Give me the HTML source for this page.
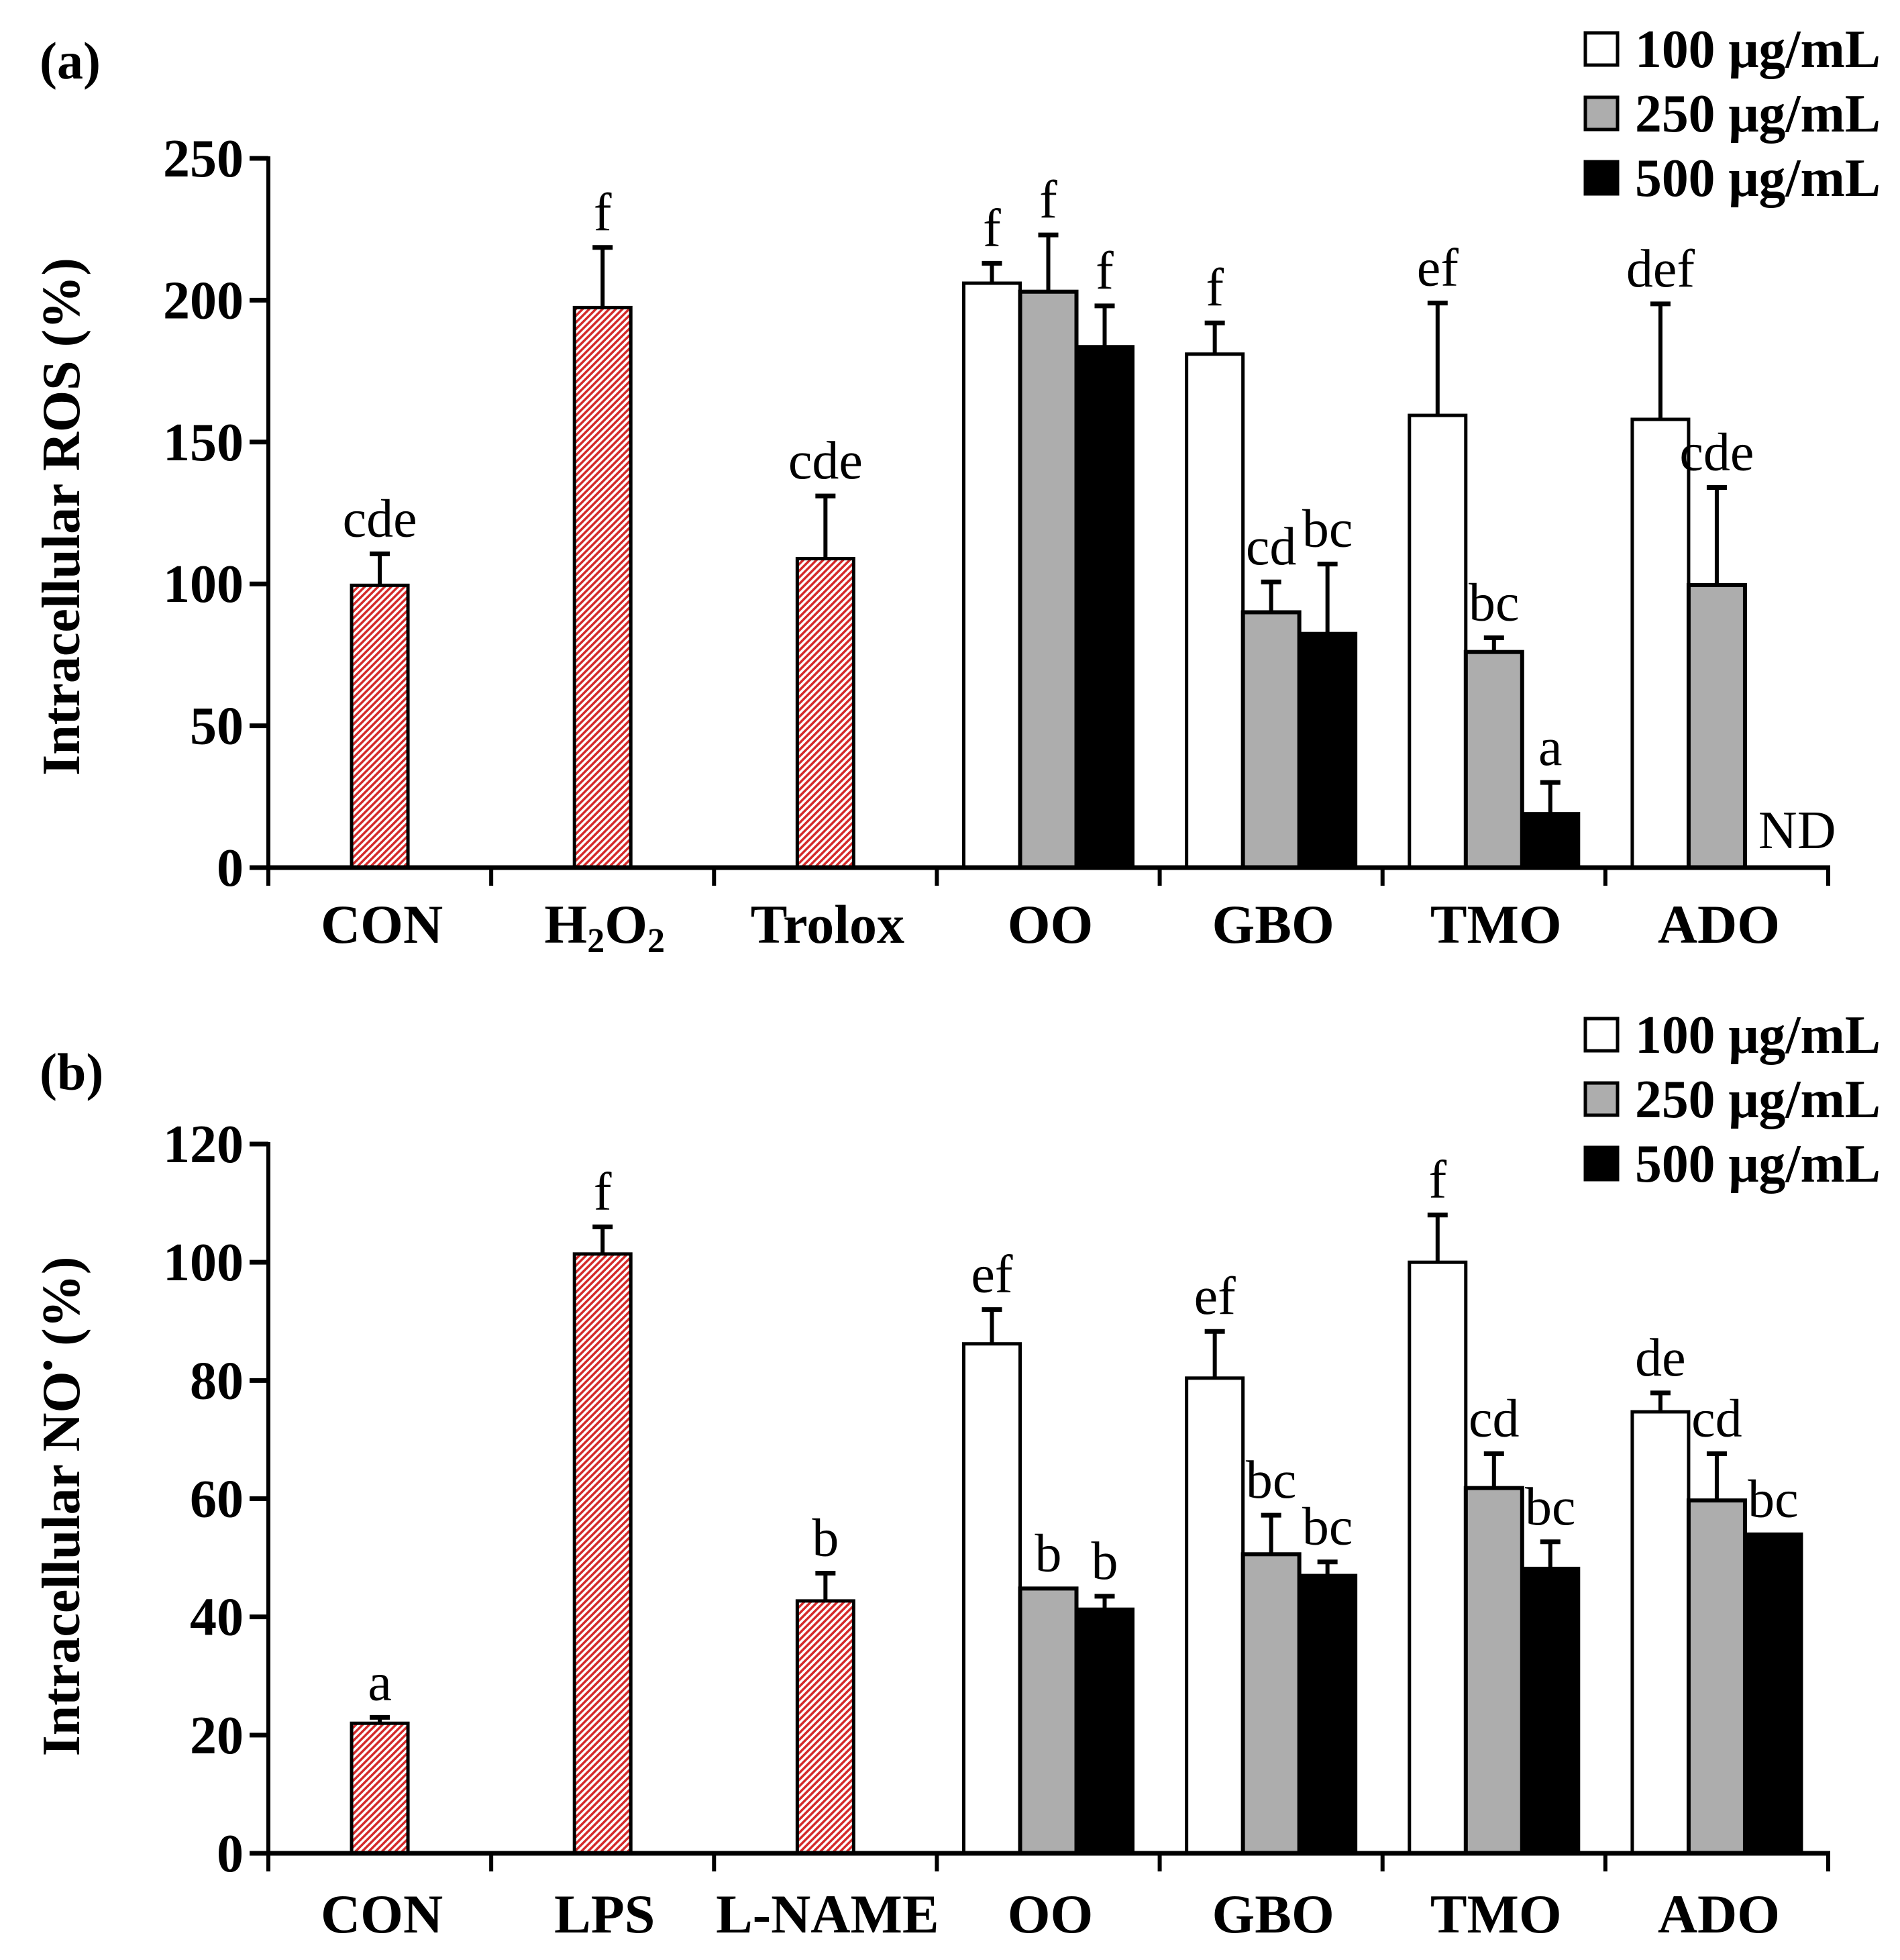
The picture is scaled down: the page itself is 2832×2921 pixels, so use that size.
<!DOCTYPE html>
<html><head><meta charset="utf-8">
<style>
html,body{margin:0;padding:0;background:#fff;}
svg{display:block;}
text{font-family:"Liberation Serif","DejaVu Serif",serif;fill:#000;}
.b{font-weight:bold;}
</style></head>
<body>
<svg id="fig" width="2832" height="2921" viewBox="0 0 2832 2921" xmlns="http://www.w3.org/2000/svg">
<defs>
<pattern id="hatch" patternUnits="userSpaceOnUse" width="7" height="7" patternTransform="rotate(-45)">
<rect width="7" height="7" fill="#fff"/>
<rect width="7" height="3.5" fill="#d42a2a"/>
</pattern>
</defs>
<g id="chartA"></g>
<g id="chartB"></g>
</svg>
<script>
// ---- Chart (a) data ----
const catsA = ["CON","H2O2","Trolox","OO","GBO","TMO","ADO"];
const ctrlA = [99.5, 197.4, 108.9];
const ctrlErrA = [110.6, 218.6, 131];
const ctrlLblA = ["cde","f","cde"];
const a100 = [206, 181, 159.4, 158];
const a250 = [203, 90, 76, 99.6];
const a500 = [183.6, 82.5, 19, 0];
const a100e = [213, 192, 199, 198.7];
const a250e = [223, 100.7, 81, 134];
const a500e = [198, 107, 30, null];
const a100l = ["f","f","ef","def"];
const a250l = ["f","cd","bc","cde"];
const a500l = ["f","bc","a","ND"];
const ticksA = [0,50,100,150,200,250];

// ---- Chart (b) data ----
const catsB = ["CON","LPS","L-NAME","OO","GBO","TMO","ADO"];
const ctrlB = [22, 101.4, 42.7];
const ctrlErrB = [23, 106, 47.4];
const ctrlLblB = ["a","f","b"];
const b100 = [86.2, 80.4, 100, 74.7];
const b250 = [44.8, 50.6, 61.8, 59.7];
const b500 = [41.3, 47, 48.2, 54];
const b100e = [92, 88.3, 108, 77.9];
const b250e = [44.8, 57.2, 67.6, 67.6];
const b500e = [43.5, 49.3, 52.7, 54];
const b100l = ["ef","ef","f","de"];
const b250l = ["b","bc","cd","cd"];
const b500l = ["b","bc","bc","bc"];
const ticksB = [0,20,40,60,80,100,120];

const NS = "http://www.w3.org/2000/svg";
function mk(parent, tag, attrs, txt){
  const e = document.createElementNS(NS, tag);
  for (const k in attrs) e.setAttribute(k, attrs[k]);
  if (txt !== undefined) e.textContent = txt;
  parent.appendChild(e);
  return e;
}

function drawChart(g, cfg){
  const x0 = 400, x1 = 2725, base = cfg.base, top = cfg.top, vmax = cfg.vmax;
  const catW = (x1 - x0) / 7, barW = 84;
  const yS = v => base - (base - top) * v / vmax;
  const catC = i => x0 + catW * (i + 0.5);

  const pl = mk(g,'text',{x:59,y:cfg.panelY,'font-size':78,class:'b'},cfg.panel);
  
  

  const yt = mk(g,'text',{x:0,y:0,'font-size':80,class:'b','text-anchor':'middle',
    transform:`translate(${cfg.titleX},${cfg.titleY}) rotate(-90)`});
  yt.innerHTML = cfg.titleHtml;
  
  

  function bar(x, v, fill, sw, err, lbl, nm){
    const y = yS(v);
    if (err !== null && err !== undefined && err > v) {
      const ye = yS(err);
      const l = mk(g,'line',{x1:x+barW/2,x2:x+barW/2,y1:y,y2:ye,stroke:'#000','stroke-width':6});
      
      
      const c = mk(g,'line',{x1:x+barW/2-15,x2:x+barW/2+15,y1:ye,y2:ye,stroke:'#000','stroke-width':7});
      
      
    }
    if (v > 0) {
      const r = mk(g,'rect',{x:x,y:y,width:barW,height:base-y,fill:fill,stroke:'#000','stroke-width':sw});
      
      
    }
    if (lbl) {
      let ly, lx = x + barW/2, anchor='middle';
      if (lbl === 'ND') { ly = base - 29; lx = x + 20; anchor='start'; }
      else { const t = (err !== null && err !== undefined) ? Math.max(err, v) : v; ly = yS(t) - 26; }
      const t = mk(g,'text',{x:lx,y:ly,'font-size':80,'text-anchor':anchor},lbl);
      
      
    }
  }

  for (let i=0;i<3;i++){
    bar(catC(i)-barW/2, cfg.ctrl[i], 'url(#hatch)', 5, cfg.ctrlErr[i], cfg.ctrlLbl[i], 'bar-'+cfg.cats[i].toLowerCase());
  }
  for (let j=0;j<4;j++){
    const c = catC(j+3);
    bar(c-1.5*barW, cfg.s100[j], '#fff', 5, cfg.e100[j], cfg.l100[j], 'bar-100');
    bar(c-0.5*barW, cfg.s250[j], '#adadad', 6, cfg.e250[j], cfg.l250[j], 'bar-250');
    bar(c+0.5*barW, cfg.s500[j], '#000', 5, cfg.e500[j], cfg.l500[j], 'bar-500');
  }

  const ya = mk(g,'line',{x1:x0,x2:x0,y1:top-3,y2:base+27,stroke:'#000','stroke-width':6});
  
  
  const xa = mk(g,'line',{x1:372,x2:x1+3,y1:base,y2:base,stroke:'#000','stroke-width':7});
  
  
  for (let i=1;i<=7;i++){
    const tx = x0 + catW*i;
    const tk = mk(g,'line',{x1:tx,x2:tx,y1:base,y2:base+27,stroke:'#000','stroke-width':6});
    
    
  }
  cfg.ticks.forEach(v=>{
    const y = yS(v);
    const tk = mk(g,'line',{x1:372,x2:x0,y1:y,y2:y,stroke:'#000','stroke-width':7});
    
    
    const tl = mk(g,'text',{x:363,y:y+27,'font-size':80,class:'b','text-anchor':'end'},String(v));
    
    
  });
  cfg.cats.forEach((c,i)=>{
    const t = mk(g,'text',{x:catC(i)+3,y:cfg.catY,'font-size':82,class:'b','text-anchor':'middle'});
    if (c === 'H2O2') t.innerHTML = 'H<tspan font-size="52" dy="14">2</tspan><tspan dy="-14">O</tspan><tspan font-size="52" dy="14">2</tspan>';
    else t.textContent = c;
    
    
  });

  const fills = ['#fff','#adadad','#000'], labs = ['100 μg/mL','250 μg/mL','500 μg/mL'];
  for (let k=0;k<3;k++){
    const ly = cfg.legY + k*96;
    const r = mk(g,'rect',{x:2363,y:ly,width:48,height:48,fill:fills[k],stroke:'#000','stroke-width':5});
    
    
    const t = mk(g,'text',{x:2437,y:ly+51,'font-size':80,class:'b','textLength':366,'lengthAdjust':'spacingAndGlyphs'},labs[k]);
    
    
  }
}

drawChart(document.getElementById('chartA'), {
  base:1293, top:236, vmax:250, ticks:ticksA, cats:catsA,
  ctrl:ctrlA, ctrlErr:ctrlErrA, ctrlLbl:ctrlLblA,
  s100:a100, s250:a250, s500:a500, e100:a100e, e250:a250e, e500:a500e,
  l100:a100l, l250:a250l, l500:a500l,
  panel:'(a)', panelY:117, titleX:118, titleY:770,
  titleHtml:'Intracellular ROS (%)', catY:1405, legY:49
});
drawChart(document.getElementById('chartB'), {
  base:2762, top:1705, vmax:120, ticks:ticksB, cats:catsB,
  ctrl:ctrlB, ctrlErr:ctrlErrB, ctrlLbl:ctrlLblB,
  s100:b100, s250:b250, s500:b500, e100:b100e, e250:b250e, e500:b500e,
  l100:b100l, l250:b250l, l500:b500l,
  panel:'(b)', panelY:1624, titleX:118, titleY:2245,
  titleHtml:'Intracellular NO<tspan font-size="50" dy="-30">•</tspan><tspan dy="30"> (%)</tspan>', catY:2880, legY:1518
});
</script>
</body></html>
